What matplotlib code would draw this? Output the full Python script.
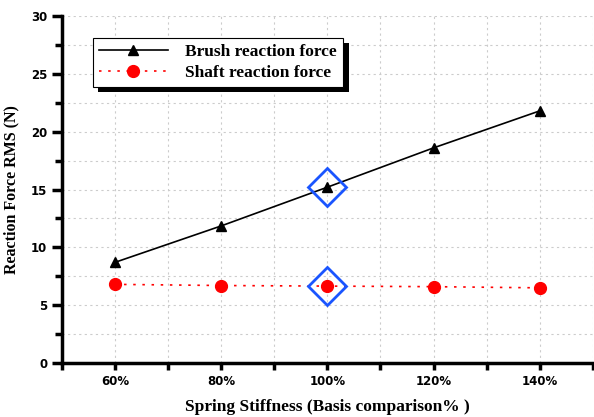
import numpy as np
import matplotlib.pyplot as plt
from matplotlib.ticker import MultipleLocator, FixedLocator
import matplotlib.patheffects as pe

# spring stiffness (% of basis) and RMS reaction forces
stiffness = [60, 80, 100, 120, 140]
stiff_labels = ["60%", "80%", "100%", "120%", "140%"]
brush_force = [8.7, 11.85, 15.2, 18.6, 21.8]
shaft_force = [6.8, 6.7, 6.65, 6.6, 6.5]

# basis case highlighted
basis_x = 100
basis_brush = 15.2
basis_shaft = 6.65

fig = plt.figure(figsize=(5.94, 4.17), dpi=100)
ax = fig.add_axes([0.104, 0.1295, 0.894, 0.832])

ax.plot(stiffness, brush_force, color="black", lw=1.2, marker="^", ms=7,
        label="Brush reaction force")
ax.plot(stiffness, shaft_force, color="red", lw=1.2, ls=(0, (1.5, 4)),
        marker="o", ms=8.5, label="Shaft reaction force")

ax.plot([basis_x, basis_x], [basis_brush, basis_shaft], ls="none", marker="D",
        ms=19, mfc="none", mec="#1a55ff", mew=2)

ax.set_xlim(50, 150)
ax.set_ylim(0, 30)
ax.xaxis.set_major_locator(FixedLocator(stiffness))
ax.set_xticklabels(stiff_labels)
ax.xaxis.set_minor_locator(FixedLocator([50, 70, 90, 110, 130, 150]))
ax.yaxis.set_major_locator(MultipleLocator(5))
ax.yaxis.set_minor_locator(MultipleLocator(2.5))

for s in ["top", "right"]:
    ax.spines[s].set_visible(False)
for s in ["left", "bottom"]:
    ax.spines[s].set_linewidth(2.5)

ax.tick_params(which="major", direction="out", length=7, width=2.5,
               labelsize=8.5)
ax.tick_params(which="minor", direction="out", length=5, width=2.5)
ax.tick_params(axis="x", which="both", length=5)
for lab in ax.get_xticklabels() + ax.get_yticklabels():
    lab.set_fontweight("bold")
    lab.set_family("DejaVu Sans")

ax.grid(True, which="both", color="#cccccc", ls=(0, (2, 3)), lw=0.8)
ax.set_axisbelow(True)

ax.set_xlabel("Spring Stiffness (Basis comparison% )", family="Liberation Serif",
              fontweight="bold", fontsize=12.5, labelpad=8)
ax.set_ylabel("Reaction Force RMS (N)", family="Liberation Serif",
              fontweight="bold", fontsize=11.5, labelpad=8)

leg = ax.legend(loc="upper left", bbox_to_anchor=(0.058, 0.937), frameon=True,
                fancybox=False, shadow=False, framealpha=1.0, handlelength=4.0,
                handletextpad=1.0,
                prop={"family": "Liberation Serif", "weight": "bold", "size": 12.5},
                borderpad=0.35, labelspacing=0.25, borderaxespad=0)
frame = leg.get_frame()
frame.set_facecolor("white")
frame.set_edgecolor("black")
frame.set_linewidth(0.8)
frame.set_path_effects([pe.SimplePatchShadow(offset=(4, -4), shadow_rgbFace="black",
                                              alpha=1.0), pe.Normal()])

fig.savefig("out.png", dpi=100)
